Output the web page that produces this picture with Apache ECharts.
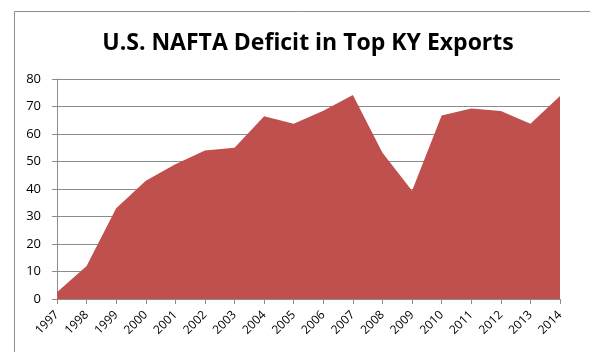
<!DOCTYPE html>
<html><head><meta charset="utf-8">
<script src="https://cdn.jsdelivr.net/npm/echarts@6/dist/echarts.min.js"></script>
<style>html,body{margin:0;padding:0;background:#fff}#c{width:590px;height:352px}</style>
</head><body><div id="c"></div>
<script>
const years = ['1997','1998','1999','2000','2001','2002','2003','2004','2005','2006','2007','2008','2009','2010','2011','2012','2013','2014'];
const deficit = [2.5,12,33,43,49,54,55,66.5,63.7,68.5,74.2,53.2,39.4,66.7,69.3,68.4,63.7,73.8];
const yTicks = [0,10,20,30,40,50,60,70,80];
const chart = echarts.init(document.getElementById('c'));
chart.setOption({
  animation:false,
  title:{text:'U.S. NAFTA Deficit in Top KY Exports',left:303,top:27,textAlign:'center',
    textStyle:{fontFamily:'Open Sans',fontWeight:'bold',fontSize:23,color:'#000'}},
  graphic:[{type:'rect',shape:{x:14.5,y:11.5,width:700,height:400},style:{fill:'none',stroke:'#8c8c8c',lineWidth:1},silent:true}],
  grid:{left:57,right:30,top:79,bottom:53},
  xAxis:{type:'category',data:years,boundaryGap:false,
    axisLine:{lineStyle:{color:'#8c8c8c'}},
    axisTick:{show:true,alignWithLabel:true,length:5,lineStyle:{color:'#8c8c8c'}},
    axisLabel:{rotate:45,fontFamily:'Open Sans',fontSize:12,color:'#000',margin:14,interval:0}},
  yAxis:{type:'value',min:0,max:80,interval:10,
    axisLine:{show:true,lineStyle:{color:'#8c8c8c'}},
    axisTick:{show:true,length:5,lineStyle:{color:'#8c8c8c'}},
    splitLine:{lineStyle:{color:'#8c8c8c'}},
    axisLabel:{fontFamily:'Open Sans',fontSize:13,color:'#000',margin:16,
      formatter:v=>yTicks.includes(v)?String(v):''}},
  series:[{type:'line',data:deficit,symbol:'none',lineStyle:{width:0},
    areaStyle:{color:'#C0504D',opacity:1}}]
});
</script></body></html>
